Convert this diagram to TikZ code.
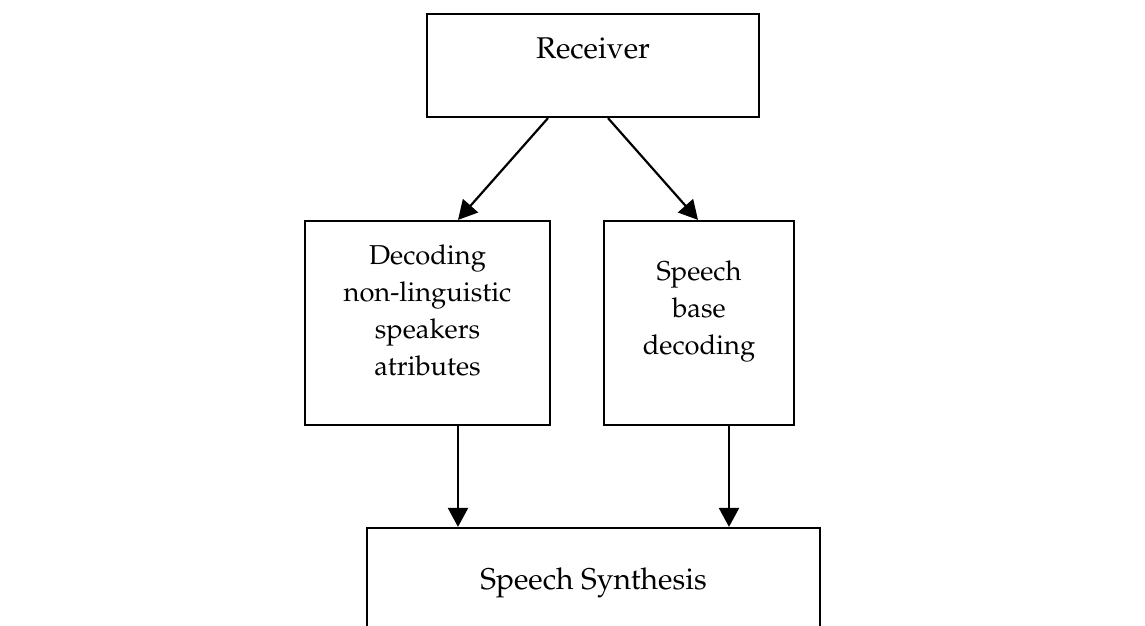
\documentclass[tikz,border=0pt]{standalone}
\usepackage[T1]{fontenc}
\usepackage{mathpazo}
\usetikzlibrary{arrows.meta}
\begin{document}
\begin{tikzpicture}[x=1pt,y=-1pt,
  box/.style={draw,line width=2.2pt,rectangle,inner sep=0pt},
  lbl/.style={align=center,font=\fontsize{30}{37}\selectfont,inner sep=0pt},
  slbl/.style={align=center,font=\fontsize{27.3}{37}\selectfont,inner sep=0pt},
  arr/.style={line width=2.2pt,-{Triangle[length=19pt,width=20pt]}}]
\useasboundingbox (0,0) rectangle (1145,626);
\clip (0,0) rectangle (1145,626);
\node[box,minimum width=332pt,minimum height=103pt] (recv) at (593,65.5) {};
\node[lbl] (recvtxt) at (593,48) {Receiver};
\node[box,minimum width=245pt,minimum height=204pt] (left) at (427.5,323) {};
\node[slbl] (lefttxt) at (427.5,310) {Decoding\\non-linguistic\\speakers\\atributes};
\node[box,minimum width=190pt,minimum height=204pt] (right) at (699,323) {};
\node[slbl] (righttxt) at (699,311) {Speech\\base\\decoding};
\node[box,minimum width=453pt,minimum height=110pt] (synth) at (593.5,583) {};
\node[lbl] (synthtxt) at (593.5,583) {Speech Synthesis};
\draw[arr] (recv.south -| 548,0) -- (left.north -| 458,0);
\draw[arr] (recv.south -| 608,0) -- (right.north -| 698,0);
\draw[arr] (left.south -| 458,0) -- (synth.north -| 458,0);
\draw[arr] (right.south -| 729,0) -- (synth.north -| 729,0);
\end{tikzpicture}
\end{document}
